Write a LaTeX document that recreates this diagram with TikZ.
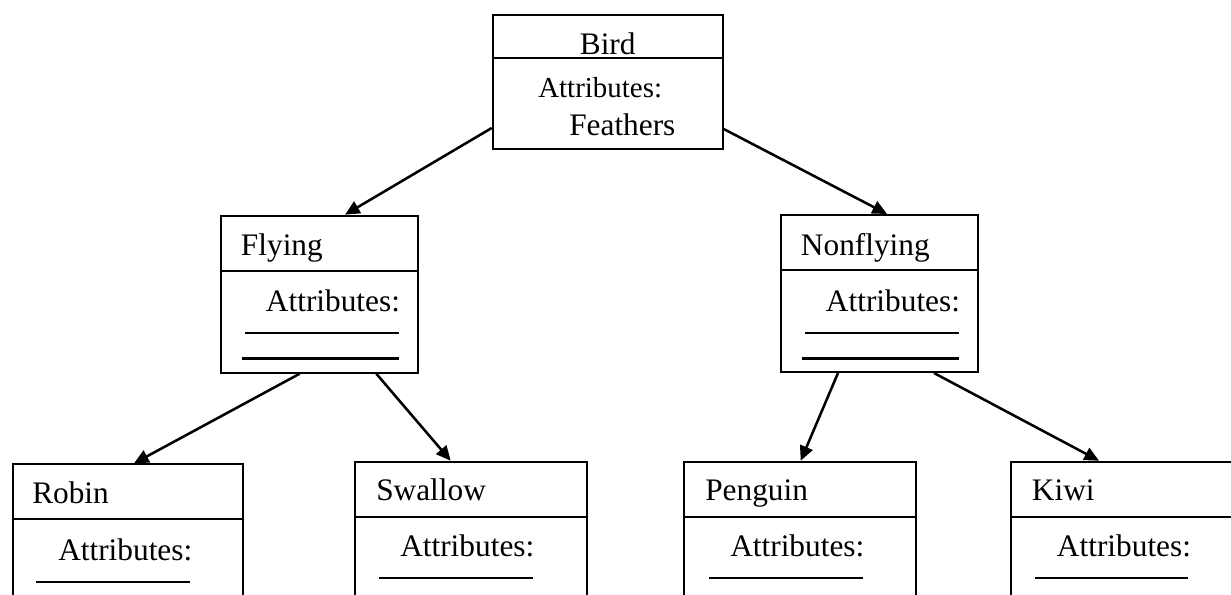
\documentclass[tikz,border=0pt]{standalone}
\usepackage{fontspec}
\setmainfont{Liberation Serif}
\usetikzlibrary{arrows.meta,calc}
\begin{document}
\begin{tikzpicture}[x=0.75pt,y=-0.75pt,
  classbox/.style={draw,rectangle,line width=1.5pt,inner sep=0pt},
  txt/.style={anchor=base west,inner sep=0pt,font=\fontsize{23.5}{28}\selectfont},
  smalltxt/.style={txt,font=\fontsize{21.7}{26}\selectfont},
  divider/.style={line width=1.5pt},
  blankline/.style={line width=1.5pt},
  thickblank/.style={line width=2.3pt},
  link/.style={line width=1.9pt,-{Triangle[length=11pt,width=10pt]}}]
\useasboundingbox (0,0) rectangle (1231,594);
\clip (0,0) rectangle (1231,594);

% class boxes
\node[classbox,minimum width=172.5pt,minimum height=100.5pt] (bird) at (607.7,82) {};
\node[classbox,minimum width=148pt,minimum height=117.75pt] (flying) at (319.35,294.2) {};
\node[classbox,minimum width=147.75pt,minimum height=117.75pt] (nonflying) at (879.5,293.5) {};
\node[classbox,minimum width=172.5pt,minimum height=109.3pt] (robin) at (127.7,537.2) {};
\node[classbox,minimum width=173.8pt,minimum height=111.2pt] (swallow) at (470.85,535.85) {};
\node[classbox,minimum width=174pt,minimum height=111.2pt] (penguin) at (800,535.85) {};
\node[classbox,minimum width=179.25pt,minimum height=111.2pt] (kiwi) at (1130.5,535.85) {};

% name / attribute compartments
\draw[divider] ($(bird.north west)+(0,44)$) -- ($(bird.north east)+(0,44)$);
\foreach \b in {flying,nonflying,robin,swallow,penguin,kiwi}
  \draw[divider] ($(\b.north west)+(0,56)$) -- ($(\b.north east)+(0,56)$);

% texts
\node[txt,anchor=base] (birdname) at (607.7,54.5) {Bird};
\node[smalltxt] (birdattr) at (538,97.7) {Attributes:};
\node[txt] (birdfeat) at (569,135) {Feathers};

\node[txt] (flyname) at (240.7,255) {Flying};
\node[txt] (flyattr) at (265.7,311.5) {Attributes:};
\node[txt] (nonname) at (800.7,255) {Nonflying};
\node[txt] (nonattr) at (825.7,311.5) {Attributes:};

\node[txt] (robinname) at (32,503) {Robin};
\node[txt] (robinattr) at (58,560) {Attributes:};
\node[txt] (swallowname) at (376,500) {Swallow};
\node[txt] (swallowattr) at (400,556.7) {Attributes:};
\node[txt] (penguinname) at (705,500) {Penguin};
\node[txt] (penguinattr) at (730,556.7) {Attributes:};
\node[txt] (kiwiname) at (1031.7,500) {Kiwi};
\node[txt] (kiwiattr) at (1056.7,556.7) {Attributes:};

% blank attribute lines
\draw[blankline] (245,332.7) -- (399,332.7);
\draw[thickblank] (242.3,358.7) -- (399,358.7);
\draw[blankline] (805,332.5) -- (959,332.5);
\draw[thickblank] (802,358.7) -- (959,358.7);
\draw[blankline] (36,581.7) -- (190,581.7);
\draw[blankline] (379,578) -- (532.7,578);
\draw[blankline] (709,578) -- (862.7,578);
\draw[blankline] (1035,578) -- (1188,578);

% inheritance links
\draw[link] ($(bird.south west)+(0,-22)$) -- ($(flying.north west)+(125.3,0)$);
\draw[link] ($(bird.south east)+(0,-21)$) -- ($(nonflying.north west)+(107,0)$);
\draw[link] ($(flying.south west)+(80,0)$) -- ($(robin.north west)+(122.3,0)$);
\draw[link] ($(flying.south west)+(156.6,0)$) -- ($(swallow.north west)+(96.7,0)$);
\draw[link] ($(nonflying.south west)+(58,0)$) -- ($(penguin.north west)+(117.7,0)$);
\draw[link] ($(nonflying.south west)+(154,0)$) -- ($(kiwi.north west)+(89,0)$);
\end{tikzpicture}
\end{document}
